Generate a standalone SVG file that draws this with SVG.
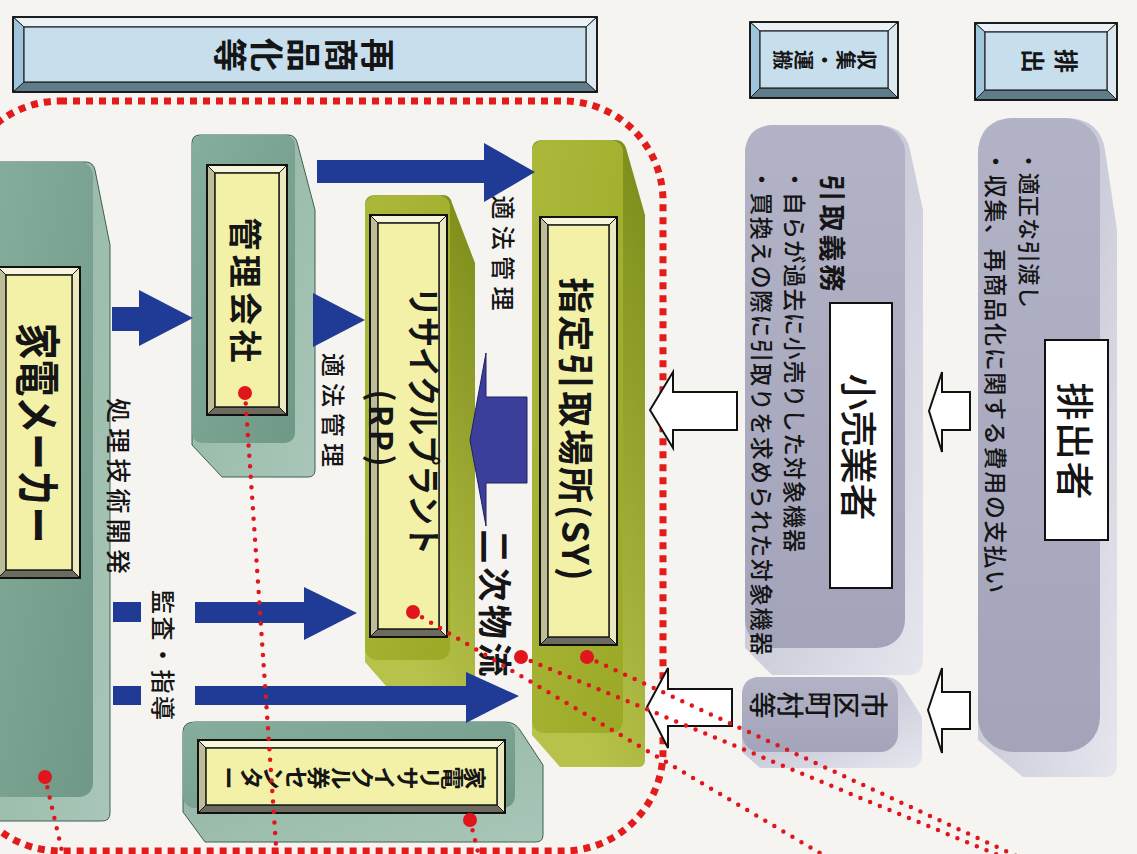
<svg xmlns="http://www.w3.org/2000/svg" width="1137" height="854" viewBox="0 0 1137 854">
<defs>
<style>
.t{font-family:"Noto Sans CJK JP","Noto Sans CJK SC",sans-serif;fill:#151515;text-anchor:middle;dominant-baseline:central}
.q{font-family:"Noto Sans CJK JP","Noto Sans CJK SC",sans-serif;fill:#151515;text-anchor:middle}
.b{font-weight:700}
.m{font-weight:500}
.s{text-anchor:start}
.pt{fill:#f8f6da;stroke:#1a1a1a;stroke-width:1}
.pb{fill:#6c6c5e;stroke:#1a1a1a;stroke-width:1}
.pl{fill:#bdbd9a;stroke:#1a1a1a;stroke-width:1}
.pr{fill:#ebe9bd;stroke:#1a1a1a;stroke-width:1}
.pi{fill:#f3f1a8;stroke:#1a1a1a;stroke-width:1.5}
.po{fill:none;stroke:#111;stroke-width:2}
.ht{fill:#eaf2f7;stroke:#222;stroke-width:1}
.hb{fill:#5f7c8b;stroke:#222;stroke-width:1}
.hl{fill:#9fc5dc;stroke:#222;stroke-width:1}
.hr{fill:#dde9f0;stroke:#222;stroke-width:1}
.hi{fill:#c7deed;stroke:#222;stroke-width:1.2}
.gh{fill:url(#greenHull);stroke:#3f5f52;stroke-width:1}
.gf{fill:url(#greenFace)}
.oh{fill:url(#oliveHull)}
.of{fill:url(#oliveFace)}
.yh{fill:url(#grayHull)}
.yf{fill:url(#grayFace)}
.wb{fill:#fff;stroke:#111;stroke-width:2}
.ba{fill:#1f3b95}
.ha{fill:#fff;stroke:#111;stroke-width:2;stroke-linejoin:miter}
.dl{fill:none;stroke:#e0161c;stroke-width:4.5;stroke-linecap:round;stroke-dasharray:0 10.5}
.rd{fill:#e0161c}
</style>
<linearGradient id="greenFace" x1="0" y1="0" x2="1" y2="1"><stop offset="0" stop-color="#86ae9c"/><stop offset="1" stop-color="#6f9886"/></linearGradient>
<linearGradient id="greenHull" x1="0" y1="0" x2="1" y2="1"><stop offset="0" stop-color="#8fb2a1"/><stop offset="1" stop-color="#a9c7b8"/></linearGradient>
<linearGradient id="oliveFace" x1="0" y1="0" x2="1" y2="1"><stop offset="0" stop-color="#acb83a"/><stop offset="1" stop-color="#9ba927"/></linearGradient>
<linearGradient id="oliveHull" x1="1" y1="0" x2="0.6" y2="1"><stop offset="0" stop-color="#7c8b18"/><stop offset="1" stop-color="#b6c24a"/></linearGradient>
<linearGradient id="grayFace" x1="0" y1="0" x2="0" y2="1"><stop offset="0" stop-color="#b2b3c6"/><stop offset="1" stop-color="#a3a4ba"/></linearGradient>
<linearGradient id="grayHull" x1="0" y1="0" x2="1" y2="1"><stop offset="0" stop-color="#b4b5c8"/><stop offset="1" stop-color="#e6e6ee"/></linearGradient>
</defs>
<rect x="0" y="0" width="1137" height="854" fill="#f6f4f1"/>

<!-- headers -->
<g id="header-saishohinka">
<polygon class="ht" points="13,17 597,17 586,27 24,27"/>
<polygon class="hb" points="13,92 597,92 586,82 24,82"/>
<polygon class="hl" points="13,17 24,27 24,82 13,92"/>
<polygon class="hr" points="597,17 586,27 586,82 597,92"/>
<rect class="hi" x="24" y="27" width="562" height="55"/>
<rect fill="none" stroke="#111" stroke-width="1.8" x="13" y="17" width="584" height="75"/>
<text class="q b" font-size="34" letter-spacing="3" x="31.4" y="17" rotate="-90" transform="translate(304,55) rotate(180)">再商品化等</text>
</g>
<g id="header-shushu">
<polygon class="ht" points="750,22 898,22 888,31 760,31"/>
<polygon class="hb" points="750,98 898,98 888,88 760,88"/>
<polygon class="hl" points="750,22 760,31 760,88 750,98"/>
<polygon class="hr" points="898,22 888,31 888,88 898,98"/>
<rect class="hi" x="760" y="31" width="128" height="57"/>
<rect fill="none" stroke="#111" stroke-width="1.8" x="750" y="22" width="148" height="76"/>
<text class="q b" font-size="20" letter-spacing="1" x="18.1" y="10" rotate="-90" transform="translate(825,60) rotate(180)">収集・運搬</text>
</g>
<g id="header-haishutsu">
<polygon class="ht" points="975,23 1117,23 1107,32 985,32"/>
<polygon class="hb" points="975,100 1117,100 1107,90 985,90"/>
<polygon class="hl" points="975,23 985,32 985,90 975,100"/>
<polygon class="hr" points="1117,23 1107,32 1107,90 1117,100"/>
<rect class="hi" x="985" y="32" width="122" height="58"/>
<rect fill="none" stroke="#111" stroke-width="1.8" x="975" y="23" width="142" height="77"/>
<text class="q b" font-size="24" letter-spacing="9" x="25.6" y="12" rotate="-90" transform="translate(1050,61) rotate(180)">排出</text>
</g>

<!-- boundary -->
<g id="boundary">
<rect x="-40" y="101" width="703" height="750" rx="100" fill="none" stroke="#e31b1b" stroke-width="7" stroke-dasharray="7 6"/>
</g>

<!-- gray blocks -->
<g id="haishutsusha">
<path class="yh" d="M1015,118 H1065 Q1100,118 1105,150 L1117,230 V765 Q1117,777 1105,777 H1023 L978,740 V155 Q978,118 1015,118 Z"/>
<rect class="yf" x="978" y="118" width="122" height="634" rx="35"/>
<rect class="wb" x="1045" y="340" width="63" height="200"/>
<text class="t m" font-size="38" textLength="117" lengthAdjust="spacing" transform="translate(1077,441) rotate(90)">排出者</text>
<text class="t m s" font-size="22" textLength="158" lengthAdjust="spacing" transform="translate(1031,150) rotate(90)">・適正な引渡し</text>
<text class="t m s" font-size="23" textLength="443" lengthAdjust="spacing" transform="translate(997,150) rotate(90)">・収集、再商品化に関する費用の支払い</text>
</g>
<g id="kourigyousha">
<path class="yh" d="M775,125 H875 Q905,125 910,150 L923,210 V660 Q923,675 908,675 H772 L745,648 V155 Q745,125 775,125 Z"/>
<rect class="yf" x="745" y="125" width="160" height="523" rx="28"/>
<rect class="wb" x="830" y="303" width="62" height="285"/>
<text class="t m" font-size="37" textLength="147" lengthAdjust="spacing" transform="translate(860,447) rotate(90)">小売業者</text>
<text class="t b" font-size="27" textLength="117" lengthAdjust="spacing" transform="translate(833,233) rotate(90)">引取義務</text>
<text class="t m s" font-size="23" textLength="384" lengthAdjust="spacing" transform="translate(796,168) rotate(90)">・自らが過去に小売りした対象機器</text>
<text class="t m s" font-size="23" textLength="487" lengthAdjust="spacing" transform="translate(763,168) rotate(90)">・買換えの際に引取りを求められた対象機器</text>
</g>
<g id="shikuchouson">
<path class="yh" d="M760,677 H885 Q898,677 905,690 L922,717 V755 Q922,768 909,768 H760 L742,752 V695 Q742,677 760,677 Z"/>
<rect class="yf" x="742" y="677" width="156" height="75" rx="18"/>
<text class="q m" font-size="27" letter-spacing="1" x="24.3" y="13.5" rotate="-90" transform="translate(818,705) rotate(180)">市区町村等</text>
</g>

<!-- green blocks -->
<g id="kaden-maker">
<path class="gh" d="M-12,162 H86 Q93,162 95,170 L110,245 V813 Q110,821 102,821 H-12 Z"/>
<rect class="gf" x="-12" y="162" width="105" height="635" rx="14"/>
<polygon class="pt" points="-2,267 80,267 72,275 6,275"/>
<polygon class="pb" points="-2,578 80,578 72,570 6,570"/>
<polygon class="pl" points="-2,267 6,275 6,570 -2,578"/>
<polygon class="pr" points="80,267 72,275 72,570 80,578"/>
<rect class="pi" x="6" y="275" width="66" height="295"/>
<rect class="po" x="-2" y="267" width="82" height="311"/>
<text class="t b" font-size="46" transform="translate(41,433) rotate(90) scale(0.8,1)">家電メーカー</text>
</g>
<g id="kanri-kaisha">
<path class="gh" d="M200,135 H288 Q295,135 297,142 L315,210 V470 Q315,477 308,477 H222 L192,445 V143 Q192,135 200,135 Z"/>
<rect class="gf" x="192" y="135" width="103" height="308" rx="10"/>
<polygon class="pt" points="207,165 287,165 279,173 215,173"/>
<polygon class="pb" points="207,415 287,415 279,407 215,407"/>
<polygon class="pl" points="207,165 215,173 215,407 207,415"/>
<polygon class="pr" points="287,165 279,173 279,407 287,415"/>
<rect class="pi" x="215" y="173" width="64" height="234"/>
<rect class="po" x="207" y="165" width="80" height="250"/>
<text class="t b" font-size="33" textLength="145" lengthAdjust="spacing" transform="translate(247,290) rotate(90)">管理会社</text>
</g>
<g id="recycle-ken-center">
<path class="gh" d="M195,722 H505 Q515,722 520,730 L543,765 V835 Q543,842 536,842 H205 L183,812 V732 Q183,722 195,722 Z"/>
<rect class="gf" x="183" y="722" width="332" height="86" rx="12"/>
<polygon class="pt" points="198,740 505,740 497,748 206,748"/>
<polygon class="pb" points="198,813 505,813 497,805 206,805"/>
<polygon class="pl" points="198,740 206,748 206,805 198,813"/>
<polygon class="pr" points="505,740 497,748 497,805 505,813"/>
<rect class="pi" x="206" y="748" width="291" height="57"/>
<rect class="po" x="198" y="740" width="307" height="73"/>
<text class="q b" font-size="23" letter-spacing="-0.5" x="20" y="11.5" rotate="-90" transform="translate(352,778) rotate(180)">家電リサイクル券センター</text>
</g>

<!-- olive blocks -->
<g id="recycle-plant">
<path class="oh" d="M375,195 H443 Q450,195 452,203 L475,263 V687 Q475,694 468,694 H393 L365,662 V205 Q365,195 375,195 Z"/>
<rect class="of" x="365" y="195" width="85" height="465" rx="12"/>
<polygon class="pt" points="370,215 447,215 439,223 378,223"/>
<polygon class="pb" points="370,637 447,637 439,629 378,629"/>
<polygon class="pl" points="370,215 378,223 378,629 370,637"/>
<polygon class="pr" points="447,215 439,223 439,629 447,637"/>
<rect class="pi" x="378" y="223" width="61" height="406"/>
<rect class="po" x="370" y="215" width="77" height="422"/>
<text class="t b" font-size="34" textLength="268" lengthAdjust="spacingAndGlyphs" transform="translate(425,421) rotate(90)">リサイクルプラント</text>
<text class="t b" font-size="32" textLength="77" lengthAdjust="spacing" transform="translate(383,428) rotate(90)">(RP)</text>
</g>
<g id="shitei-hikitori">
<path class="oh" d="M542,140 H616 Q623,140 626,148 L645,215 V760 Q645,767 638,767 H560 L532,735 V150 Q532,140 542,140 Z"/>
<rect class="of" x="532" y="140" width="91" height="593" rx="12"/>
<polygon class="pt" points="540,217 617,217 609,225 548,225"/>
<polygon class="pb" points="540,645 617,645 609,637 548,637"/>
<polygon class="pl" points="540,217 548,225 548,637 540,645"/>
<polygon class="pr" points="617,217 609,225 609,637 617,645"/>
<rect class="pi" x="548" y="225" width="61" height="412"/>
<rect class="po" x="540" y="217" width="77" height="428"/>
<text class="t b" font-size="36" textLength="303" lengthAdjust="spacing" transform="translate(578,429) rotate(90)">指定引取場所(SY)</text>
</g>

<!-- connectors -->
<g id="connectors">
<path class="ba" d="M112,307 H139 V290 L193,318 L139,346 V331 H112 Z"/>
<path class="ba" d="M313,293 L365,320 L313,347 Z"/>
<path class="ba" d="M317,160 H484 V143 L535,172 L484,202 V183 H317 Z"/>
<rect class="ba" x="113" y="602" width="28" height="20"/>
<path class="ba" d="M195,602 H304 V587 L357,613 L304,640 V623 H195 Z"/>
<rect class="ba" x="113" y="686" width="28" height="19"/>
<path class="ba" d="M195,686 H466 V672 L519,696 L466,723 V705 H195 Z"/>
<path d="M470,440 L486,353 V397 H527 V483 H486 V526 Z" fill="#3c3e9b" stroke="#20205e" stroke-width="1"/>
<path class="ha" d="M650,410 L673,372 V392 H737 V430 H673 V448 Z"/>
<path class="ha" d="M647,707 L668,668 V689 H732 V726 H668 V748 Z"/>
<path class="ha" d="M929,411 L942,372 V392 H970 V430 H942 V452 Z"/>
<path class="ha" d="M928,710 L942,668 V692 H970 V729 H942 V753 Z"/>
<text class="t m" font-size="24" textLength="115" lengthAdjust="spacing" transform="translate(504,253) rotate(90)">適法管理</text>
<text class="t m" font-size="24" textLength="114" lengthAdjust="spacing" transform="translate(334,410) rotate(90)">適法管理</text>
<text class="t m" font-size="25" textLength="176" lengthAdjust="spacing" transform="translate(120,486) rotate(90)">処理技術開発</text>
<text class="t m" font-size="24" textLength="130" lengthAdjust="spacing" transform="translate(164,655) rotate(90)">監査・指導</text>
<text class="t b" font-size="34" textLength="147" lengthAdjust="spacing" transform="translate(496,603) rotate(90)">二次物流</text>
<path class="dl" d="M45,777 L64,860"/>
<path class="dl" d="M245,393 L277,860"/>
<path class="dl" d="M470,820 L480,860"/>
<path class="dl" d="M413,612 L840,865"/>
<path class="dl" d="M521,657 L1010,860"/>
<path class="dl" d="M587,657 L1025,860"/>
<circle class="rd" cx="45" cy="777" r="7"/>
<circle class="rd" cx="245" cy="393" r="7"/>
<circle class="rd" cx="470" cy="820" r="7"/>
<circle class="rd" cx="413" cy="612" r="7"/>
<circle class="rd" cx="521" cy="657" r="7"/>
<circle class="rd" cx="587" cy="657" r="7"/>
</g>
</svg>
